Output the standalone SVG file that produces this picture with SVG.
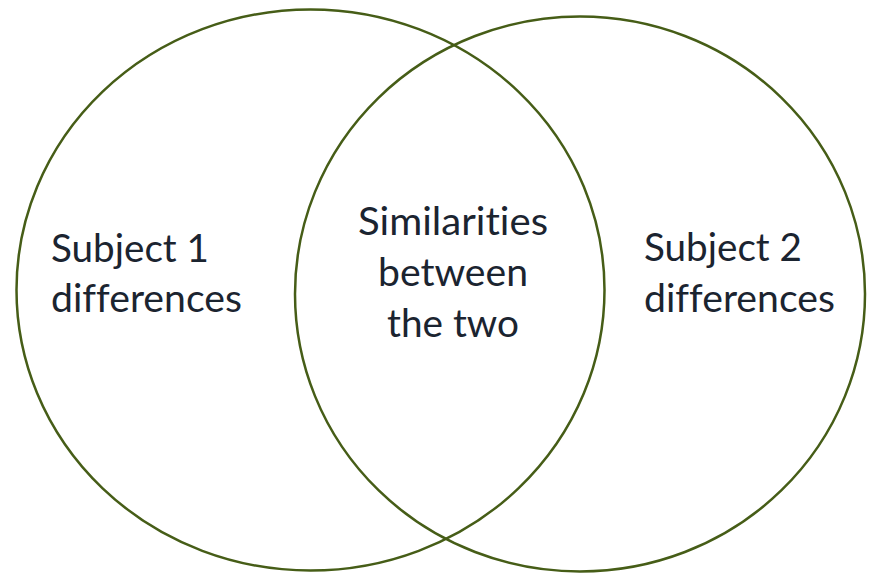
<svg xmlns="http://www.w3.org/2000/svg" width="872" height="573" viewBox="0 0 872 573">
<style>
.ring{fill:none;stroke:#465d17;stroke-width:2.5}
.lbl{font-family:Lato,"Open Sans","Liberation Sans",sans-serif;font-size:39px;fill:#1b2430;font-variant-ligatures:none;font-feature-settings:"liga" 0,"clig" 0,"dlig" 0}
</style>
<rect width="872" height="573" fill="#ffffff"/>
<g id="subject1">
<ellipse class="ring" cx="310.5" cy="290" rx="294" ry="280.5"/>
<text class="lbl" x="51" y="262" textLength="158" lengthAdjust="spacingAndGlyphs">Subject 1</text>
<text class="lbl" x="51" y="312" textLength="191" lengthAdjust="spacingAndGlyphs">differences</text>
</g>
<g id="subject2">
<ellipse class="ring" cx="580" cy="294" rx="285" ry="277.5"/>
<text class="lbl" x="644" y="261" textLength="158" lengthAdjust="spacingAndGlyphs">Subject 2</text>
<text class="lbl" x="644" y="312" textLength="191" lengthAdjust="spacingAndGlyphs">differences</text>
</g>
<g id="similarities">
<text class="lbl" x="453" y="235" text-anchor="middle" textLength="190" lengthAdjust="spacingAndGlyphs">Similarities</text>
<text class="lbl" x="453" y="286" text-anchor="middle" textLength="150" lengthAdjust="spacingAndGlyphs">between</text>
<text class="lbl" x="453" y="337" text-anchor="middle" textLength="132" lengthAdjust="spacingAndGlyphs">the two</text>
</g>
<g id="connectors"/>
</svg>
